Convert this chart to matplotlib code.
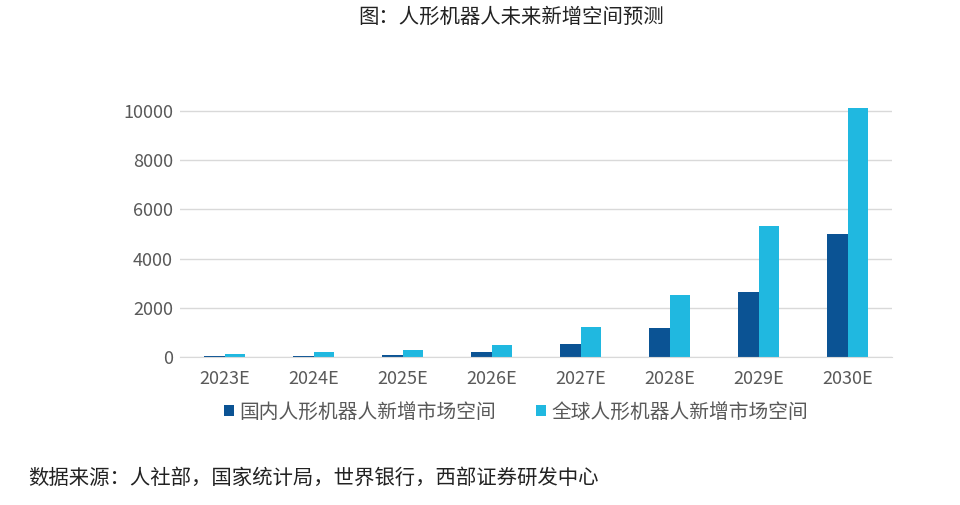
import numpy as np
import matplotlib.pyplot as plt

plt.rcParams['font.family'] = ['Noto Sans CJK SC', 'DejaVu Sans']

years = ['2023E', '2024E', '2025E', '2026E', '2027E', '2028E', '2029E', '2030E']
domestic = [40, 55, 95, 200, 540, 1190, 2635, 5000]
world = [120, 190, 300, 490, 1200, 2540, 5320, 10135]

fig = plt.figure(figsize=(9.6, 5.05), dpi=100)
ax = fig.add_axes([0.1875, 0.293, 0.742, 0.507])

x = np.arange(len(years))
w = 0.23
ax.bar(x - w / 2, domestic, w, color='#0B5394', label='国内人形机器人新增市场空间')
ax.bar(x + w / 2, world, w, color='#20B8E0', label='全球人形机器人新增市场空间')

ax.set_xlim(-0.5, 7.5)
ax.set_ylim(0, 10400)
ax.set_yticks([0, 2000, 4000, 6000, 8000, 10000])
ax.set_xticks(x)
ax.set_xticklabels(years)
ax.yaxis.grid(True, color='#D9D9D9', linewidth=1)
ax.set_axisbelow(True)
for s in ['top', 'right', 'left']:
    ax.spines[s].set_visible(False)
ax.spines['bottom'].set_color('#D9D9D9')
ax.tick_params(length=0, labelsize=13, colors='#595959', pad=9)
ax.tick_params(axis='y', pad=5)

ax.legend(loc='center', bbox_to_anchor=(0.472, -0.215), ncol=2, frameon=False,
          fontsize=14.2, handlelength=0.5, handleheight=0.5, handletextpad=0.3,
          columnspacing=2.0, labelcolor='#595959')

fig.text(0.532, 0.966, '图：人形机器人未来新增空间预测', ha='center', va='center', fontsize=14.7, color='#222222')
fig.text(0.029, 0.053, '数据来源：人社部，国家统计局，世界银行，西部证券研发中心', ha='left', va='center',
         fontsize=14.7, color='#222222')

fig.savefig('out.png', dpi=100)
